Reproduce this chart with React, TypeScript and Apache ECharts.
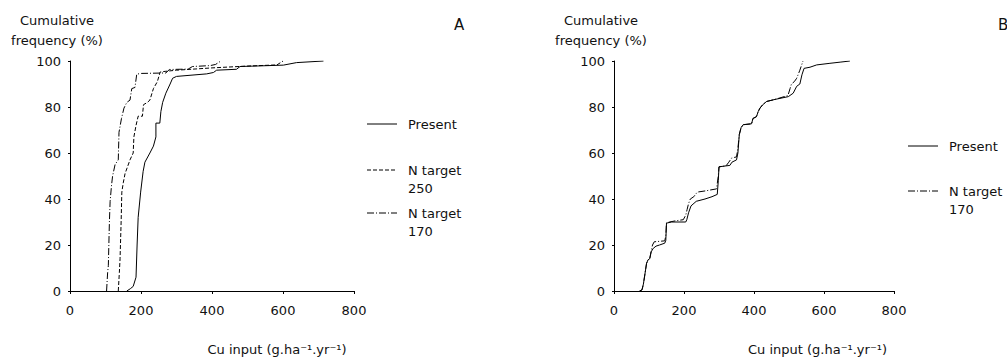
import React, { useEffect, useRef } from "react";
import * as echarts from "echarts";

// Panel A: cumulative frequency (%) vs Cu input (g/ha/yr)
const presentA: [number, number][] = [
  [160, 0], [170, 1], [178, 2], [186, 6], [189, 20], [192, 32], [199, 43], [206, 52], [211, 56],
  [225, 60], [235, 63], [242, 67], [242, 73], [253, 73], [256, 78], [261, 82], [270, 86],
  [282, 90], [289, 92.5], [300, 93.3], [385, 94.4], [404, 95], [413, 96], [469, 96.4],
  [479, 97.6], [601, 98.2], [638, 99.3], [714, 100],
];
const nTarget250A: [number, number][] = [
  [136, 0], [139, 8], [141, 14], [144, 30], [146, 43], [150, 47], [155, 51], [162, 54],
  [169, 57], [178, 60], [180, 67], [186, 72], [192, 76], [204, 76], [207, 81], [218, 82],
  [225, 83], [235, 88], [246, 91], [254, 95.2], [268, 95.5], [300, 96], [400, 97],
  [500, 97.8], [583, 98.3], [600, 100],
];
const nTarget170A: [number, number][] = [
  [103, 0], [106, 8], [108, 11], [111, 30], [113, 39], [117, 46], [120, 50], [127, 55],
  [136, 57], [138, 69], [145, 75], [152, 79.5], [160, 82], [169, 83], [174, 88], [183, 88.5],
  [188, 94.3], [202, 94.6], [270, 94.8], [280, 96.3], [333, 96.5], [345, 97.6], [395, 98],
  [410, 98.5], [425, 100],
];

// Panel B
const presentB: [number, number][] = [
  [73, 0], [80, 0.5], [84, 3], [88, 7], [93, 12], [97, 13.5], [102, 14], [106, 17],
  [112, 18.5], [120, 19.5], [130, 20], [145, 20.8], [148, 22], [150, 29.5], [164, 30],
  [205, 30], [208, 31], [213, 34], [220, 37], [235, 39], [260, 40], [280, 41], [295, 42],
  [298, 48], [300, 54], [320, 54.4], [331, 54.6], [337, 56], [350, 57], [354, 60],
  [358, 68], [363, 71], [369, 72.3], [393, 72.7], [397, 75], [407, 75.8], [412, 78],
  [417, 79.5], [425, 81], [436, 82.4], [460, 83.3], [498, 84.5], [512, 86], [522, 89],
  [531, 90], [537, 94], [543, 96.8], [560, 97.3], [579, 98.3], [617, 99], [646, 99.5],
  [674, 100],
];
const nTarget170B: [number, number][] = [
  [73, 0], [80, 0.5], [84, 3], [88, 7], [93, 12], [97, 13.5], [102, 14], [106, 17],
  [110, 20], [115, 21.4], [145, 21.8], [148, 24], [150, 29.7], [175, 30.5], [198, 31],
  [205, 33], [209, 35.5], [213, 38], [218, 40], [228, 41], [238, 43], [260, 43.5],
  [293, 44.4], [298, 50], [300, 54], [320, 54.4], [328, 56], [336, 57.8], [350, 58.3],
  [354, 62], [358, 68], [363, 71], [369, 72.3], [393, 72.7], [397, 75], [407, 75.8],
  [412, 78], [417, 79.5], [425, 81], [436, 82.4], [460, 83.3], [497, 85], [503, 88],
  [507, 90], [515, 91], [522, 92.5], [531, 96], [540, 100],
];

const xTicks = [0, 200, 400, 600, 800];
const yTicks = [0, 20, 40, 60, 80, 100];

const FONT = "DejaVu Sans";
const INK = "#111";
const SOLID: number[] | "solid" = "solid";
const DASHED = [4, 2];
const DASHDOT = [7, 2, 1, 2];

export default function App() {
  const ref = useRef<HTMLDivElement>(null);

  useEffect(() => {
    if (!ref.current) return;
    const chart = echarts.init(ref.current, undefined, { renderer: "svg" });

    const xAxisBase = (gridIndex: number, padLeft: number) => ({
      type: "value" as const,
      gridIndex,
      min: xTicks[0],
      max: xTicks[xTicks.length - 1],
      interval: xTicks[1] - xTicks[0],
      name: "Cu input (g.ha⁻¹.yr⁻¹)",
      nameLocation: "middle" as const,
      nameGap: 52,
      nameTextStyle: { fontFamily: FONT, fontSize: 13, color: INK, padding: [0, 0, 0, padLeft] },
      axisLine: { show: true, lineStyle: { color: "#000", width: 1 } },
      axisTick: { show: true, length: 3, lineStyle: { color: "#000" } },
      axisLabel: { fontFamily: FONT, fontSize: 13, color: INK, margin: 13 },
      splitLine: { show: false },
    });
    const yAxisBase = (gridIndex: number) => ({
      type: "value" as const,
      gridIndex,
      min: yTicks[0],
      max: yTicks[yTicks.length - 1],
      interval: yTicks[1] - yTicks[0],
      name: "Cumulative\nfrequency (%)",
      nameLocation: "end" as const,
      nameGap: 11,
      nameTextStyle: {
        fontFamily: FONT, fontSize: 13, color: INK, lineHeight: 20,
        align: "center", padding: [0, 26, 0, 0],
      },
      axisLine: { show: true, lineStyle: { color: "#000", width: 1 } },
      axisTick: { show: true, length: 2, lineStyle: { color: "#000" } },
      axisLabel: { fontFamily: FONT, fontSize: 13, color: INK, margin: 9 },
      splitLine: { show: false },
    });

    const lineSeries = (name: string, data: [number, number][], idx: number, type: any) => ({
      type: "line" as const,
      name,
      data,
      xAxisIndex: idx,
      yAxisIndex: idx,
      showSymbol: false,
      symbol: "none",
      lineStyle: { color: "#000", width: 1, type },
      z: 3,
    });

    const legendItem = (x: number, y: number, dash: number[] | null, lines: string[]) => {
      const els: any[] = [
        {
          type: "line",
          shape: { x1: x, y1: y, x2: x + 30, y2: y },
          style: { stroke: "#000", lineWidth: 1, lineDash: dash || undefined },
        },
      ];
      lines.forEach((t, i) => {
        els.push({
          type: "text",
          x: x + 41,
          y: y + i * 18.5,
          style: {
            text: t, fill: INK, font: `13px "${FONT}"`,
            textVerticalAlign: "middle", verticalAlign: "middle", align: "left",
          },
        });
      });
      return els;
    };

    chart.setOption({
      animation: false,
      backgroundColor: "#fff",
      grid: [
        { left: 70, top: 61, width: 284, height: 231 },
        { left: 614, top: 61, width: 280, height: 231 },
      ],
      xAxis: [xAxisBase(0, 130), xAxisBase(1, 127)],
      yAxis: [yAxisBase(0), yAxisBase(1)],
      series: [
        lineSeries("Present", presentA, 0, SOLID),
        lineSeries("N target 250", nTarget250A, 0, DASHED),
        lineSeries("N target 170", nTarget170A, 0, DASHDOT),
        lineSeries("Present ", presentB, 1, SOLID),
        lineSeries("N target 170 ", nTarget170B, 1, DASHDOT),
      ],
      graphic: [
        ...legendItem(367, 124, null, ["Present"]),
        ...legendItem(367, 170, DASHED, ["N target", "250"]),
        ...legendItem(367, 213, DASHDOT, ["N target", "170"]),
        ...legendItem(908, 146, null, ["Present"]),
        ...legendItem(908, 191, DASHDOT, ["N target", "170"]),
        {
          type: "text", x: 454, y: 25,
          style: { text: "A", fill: INK, font: `15px "${FONT}"`, verticalAlign: "middle", textVerticalAlign: "middle" },
        },
        {
          type: "text", x: 998, y: 25,
          style: { text: "B", fill: INK, font: `15px "${FONT}"`, verticalAlign: "middle", textVerticalAlign: "middle" },
        },
      ],
    });

    return () => chart.dispose();
  }, []);

  return (
    <div
      ref={ref}
      style={{ position: "absolute", left: 0, top: 0, width: 1007, height: 361, background: "#fff" }}
    />
  );
}
